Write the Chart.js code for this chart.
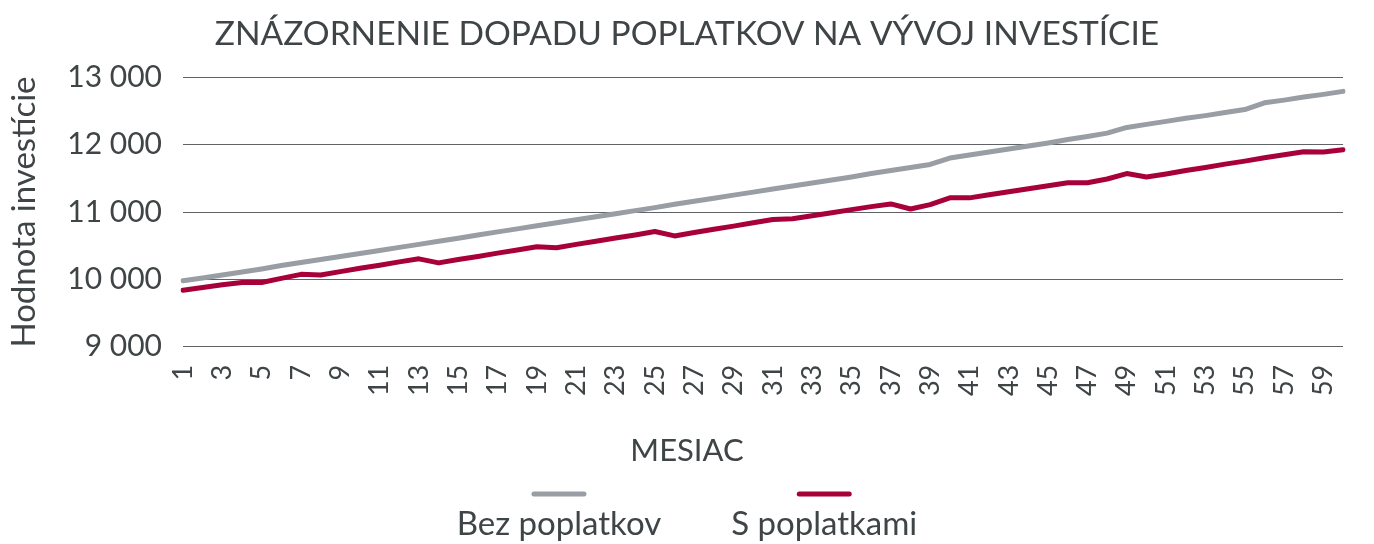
<!DOCTYPE html>
<html>
<head>
<meta charset="utf-8">
<script src="https://cdn.jsdelivr.net/npm/chart.js@4.4.1/dist/chart.umd.min.js"></script>
<style>
html,body{margin:0;padding:0;background:#ffffff;}
#wrap{width:1374px;height:544px;position:relative;}
</style>
</head>
<body>
<div id="wrap"><canvas id="c" width="1374" height="544"></canvas></div>
<script>
// ---- data ----
const months = ['1','2','3','4','5','6','7','8','9','10',
  '11','12','13','14','15','16','17','18','19','20',
  '21','22','23','24','25','26','27','28','29','30',
  '31','32','33','34','35','36','37','38','39','40',
  '41','42','43','44','45','46','47','48','49','50',
  '51','52','53','54','55','56','57','58','59','60'];

const bezPoplatkov = [9980, 10020, 10065, 10110, 10155, 10205, 10250, 10295, 10340, 10385,
  10430, 10475, 10520, 10565, 10610, 10660, 10705, 10750, 10795, 10840,
  10885, 10930, 10975, 11020, 11065, 11115, 11160, 11205, 11250, 11295,
  11340, 11385, 11430, 11475, 11520, 11570, 11615, 11660, 11705, 11800,
  11845, 11890, 11935, 11980, 12025, 12075, 12120, 12170, 12255, 12300,
  12345, 12390, 12430, 12475, 12520, 12620, 12660, 12705, 12745, 12790];

const sPoplatkami = [9840, 9880, 9920, 9955, 9955, 10015, 10075, 10065, 10115, 10165,
  10210, 10260, 10305, 10245, 10295, 10340, 10390, 10435, 10485, 10470,
  10520, 10565, 10615, 10660, 10710, 10645, 10695, 10745, 10790, 10840,
  10890, 10900, 10945, 10990, 11035, 11080, 11120, 11045, 11110, 11210,
  11210, 11255, 11300, 11345, 11390, 11435, 11435, 11490, 11570, 11520,
  11565, 11615, 11660, 11710, 11755, 11805, 11850, 11895, 11890, 11925];

const yTickValues = [9000, 10000, 11000, 12000, 13000];
const seriesNames = ['Bez poplatkov', 'S poplatkami'];
const chartTitle = 'ZNÁZORNENIE DOPADU POPLATKOV NA VÝVOJ INVESTÍCIE';
const xAxisTitle = 'MESIAC';
const yAxisTitle = 'Hodnota investície';

// ---- style ----
const TEXT = '#3f4446';
const GREY = '#989ea3';
const RED = '#a8003b';
const FONT = 'Lato';

function fmt(v) {
  return String(v).replace(/\B(?=(\d{3})+(?!\d))/g, ' ');
}

const bottomLegend = {
  id: 'bottomLegend',
  afterDraw(chart) {
    const ctx = chart.ctx;
    const ds = chart.data.datasets;
    ctx.save();
    ctx.font = '33px ' + FONT;
    const gap = 70;
    const widths = ds.map(d => ctx.measureText(d.label).width);
    const total = widths.reduce((a, b) => a + b, 0) + gap * (ds.length - 1);
    let x = chart.width / 2 - total / 2;
    const swY = chart.height - 50;
    const txtY = chart.height - 9;
    ds.forEach((d, i) => {
      const cx = x + widths[i] / 2;
      ctx.strokeStyle = d.borderColor;
      ctx.lineWidth = 5;
      ctx.lineCap = 'round';
      ctx.beginPath();
      ctx.moveTo(cx - 25, swY);
      ctx.lineTo(cx + 25, swY);
      ctx.stroke();
      ctx.fillStyle = TEXT;
      ctx.textAlign = 'center';
      ctx.textBaseline = 'alphabetic';
      ctx.fillText(d.label, cx, txtY);
      x += widths[i] + gap;
    });
    ctx.restore();
  }
};

Chart.defaults.font.family = FONT;
Chart.defaults.color = TEXT;

new Chart(document.getElementById('c'), {
  type: 'line',
  data: {
    labels: months,
    datasets: [
      { label: seriesNames[0], data: bezPoplatkov, borderColor: GREY, backgroundColor: GREY,
        borderWidth: 5, pointRadius: 0, tension: 0, borderCapStyle: 'round', borderJoinStyle: 'round' },
      { label: seriesNames[1], data: sPoplatkami, borderColor: RED, backgroundColor: RED,
        borderWidth: 5, pointRadius: 0, tension: 0, borderCapStyle: 'round', borderJoinStyle: 'round' }
    ]
  },
  options: {
    responsive: false,
    animation: false,
    devicePixelRatio: 1,
    layout: { padding: { left: 0, right: 0, top: 0, bottom: 74 } },
    plugins: {
      legend: { display: false },
      tooltip: { enabled: false },
      title: {
        display: true, text: chartTitle, color: TEXT,
        font: { family: FONT, size: 33.5, weight: 'normal' },
        padding: { top: 14, bottom: 23 }
      },
      subtitle: {
        display: true, text: xAxisTitle, position: 'bottom', color: TEXT,
        font: { family: FONT, size: 31, weight: 'normal' },
        padding: { top: 0, bottom: 0 }
      }
    },
    scales: {
      x: {
        grid: { display: false, drawTicks: false },
        border: { display: false },
        ticks: {
          autoSkip: false, minRotation: 90, maxRotation: 90, padding: 18,
          color: TEXT, font: { family: FONT, size: 27 },
          callback: function (val, idx) { return idx % 2 === 0 ? months[idx] : null; }
        },
        afterFit: s => { s.height = 86; }
      },
      y: {
        min: 9000, max: 13000,
        grid: { color: '#5f6366', lineWidth: 1, drawTicks: false },
        border: { display: false },
        ticks: {
          padding: 21, color: TEXT, font: { family: FONT, size: 30 },
          callback: v => fmt(v)
        },
        afterBuildTicks: s => { s.ticks = yTickValues.map(v => ({ value: v })); },
        title: {
          display: true, text: yAxisTitle, color: TEXT,
          font: { family: FONT, size: 33, weight: 'normal' },
          padding: { top: 5, bottom: 0 }
        },
        afterFit: s => { s.width = 183; }
      },
      yRight: {
        position: 'right',
        min: 9000, max: 13000,
        grid: { display: false, drawTicks: false },
        border: { display: false },
        ticks: { display: false },
        afterFit: s => { s.width = 11; }
      }
    }
  },
  plugins: [bottomLegend]
});
</script>
</body>
</html>
